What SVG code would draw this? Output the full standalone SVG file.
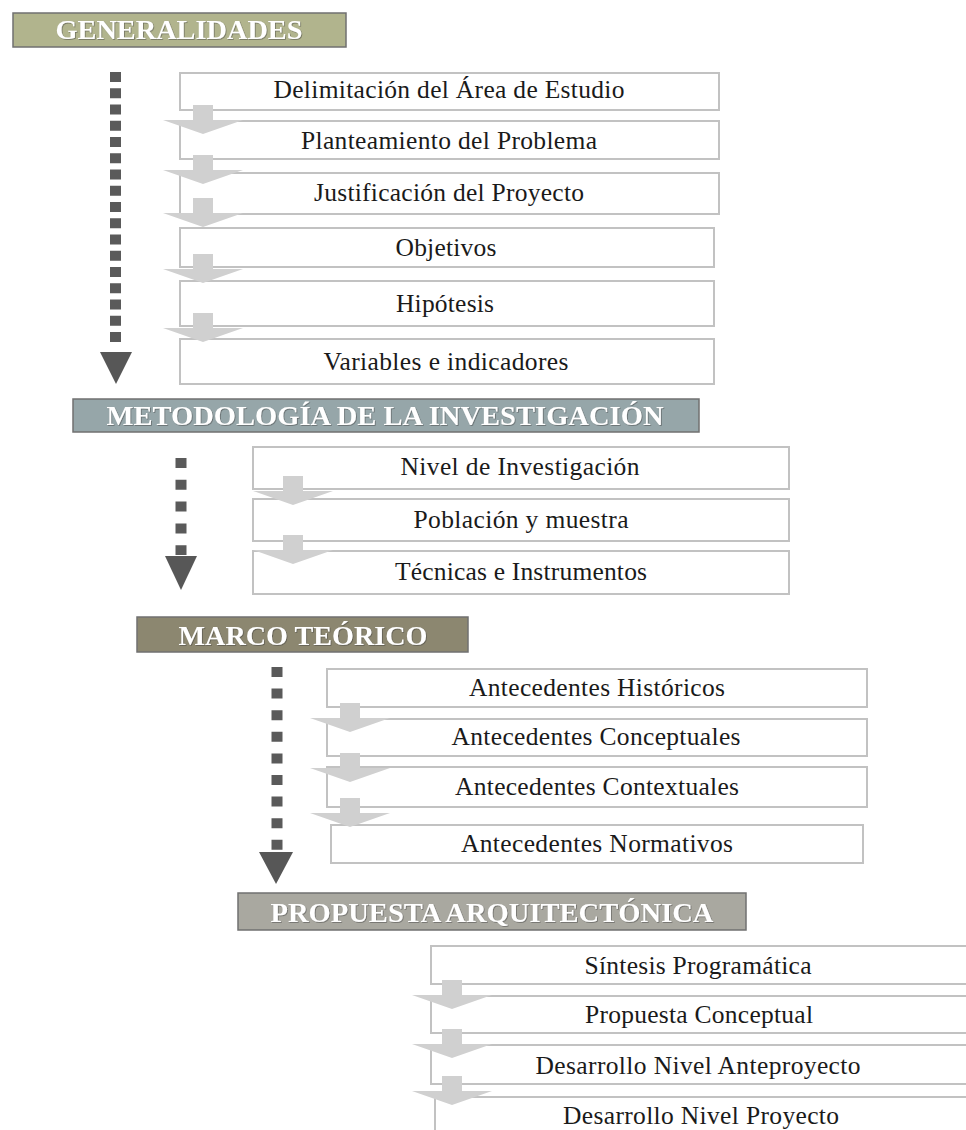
<svg xmlns="http://www.w3.org/2000/svg" xmlns:xlink="http://www.w3.org/1999/xlink" width="966" height="1130" viewBox="0 0 966 1130">
  <style>
    .head rect { stroke: #707070; stroke-width: 1.5; }
    .head text { font-family: "Liberation Serif", "Times New Roman", serif; font-weight: bold; font-size: 27px; fill: #ffffff; text-anchor: middle; filter: url(#soft); }
    .step rect { fill: #ffffff; stroke: #c2c2c2; stroke-width: 2; }
    .step text { font-family: "Liberation Serif", "Times New Roman", serif; font-size: 25.5px; fill: #1a1a1a; text-anchor: middle; }
    .dots { stroke: #5a5a5a; stroke-width: 11; fill: none; }
    .tip { fill: #575757; }
    .flow { fill: #d0d0d0; }
  </style>
  <defs>
    <filter id="soft" x="-5%" y="-30%" width="110%" height="160%">
      <feDropShadow dx="0.8" dy="0.8" stdDeviation="0.7" flood-color="#3a3a3a" flood-opacity="0.55"/>
    </filter>
    <!-- wide light-grey chevron arrow, tip at the origin -->
    <path id="chev" class="flow" d="M-10,-29 H10 V-14 H40 L0,0 L-40,-14 H-10 Z"/>
  </defs>

  <rect width="966" height="1130" fill="#ffffff"/>

  <!-- section headers -->
  <g id="h-generalidades" class="head">
    <rect x="13" y="13" width="333" height="34" fill="#b1b48d"/>
    <text x="179" y="39" textLength="247" lengthAdjust="spacingAndGlyphs">GENERALIDADES</text>
  </g>
  <g id="h-metodologia" class="head">
    <rect x="73" y="399" width="626" height="33" fill="#96a6a9"/>
    <text x="385" y="425" textLength="557" lengthAdjust="spacingAndGlyphs">METODOLOGÍA DE LA INVESTIGACIÓN</text>
  </g>
  <g id="h-marco" class="head">
    <rect x="137" y="617" width="331" height="35" fill="#8c8770"/>
    <text x="303" y="645" textLength="249" lengthAdjust="spacingAndGlyphs">MARCO TEÓRICO</text>
  </g>
  <g id="h-propuesta" class="head">
    <rect x="238" y="893" width="508" height="37" fill="#a9a8a0"/>
    <text x="492" y="922" textLength="443" lengthAdjust="spacingAndGlyphs">PROPUESTA ARQUITECTÓNICA</text>
  </g>

  <!-- GENERALIDADES steps -->
  <g id="s-delimitacion" class="step">
    <rect x="180" y="73" width="539" height="37"/>
    <text x="449" y="98" textLength="351" lengthAdjust="spacing">Delimitación del Área de Estudio</text>
  </g>
  <g id="s-planteamiento" class="step">
    <rect x="180" y="121" width="539" height="38"/>
    <text x="449" y="149" textLength="296" lengthAdjust="spacing">Planteamiento del Problema</text>
  </g>
  <g id="s-justificacion" class="step">
    <rect x="180" y="173" width="539" height="41"/>
    <text x="449" y="201" textLength="270" lengthAdjust="spacing">Justificación del Proyecto</text>
  </g>
  <g id="s-objetivos" class="step">
    <rect x="180" y="228" width="534" height="39"/>
    <text x="446" y="256" textLength="101" lengthAdjust="spacing">Objetivos</text>
  </g>
  <g id="s-hipotesis" class="step">
    <rect x="180" y="281" width="534" height="45"/>
    <text x="445" y="312" textLength="98" lengthAdjust="spacing">Hipótesis</text>
  </g>
  <g id="s-variables" class="step">
    <rect x="180" y="339" width="534" height="45"/>
    <text x="446" y="370" textLength="245" lengthAdjust="spacing">Variables e indicadores</text>
  </g>

  <!-- METODOLOGÍA steps -->
  <g id="s-nivel" class="step">
    <rect x="253" y="447" width="536" height="42"/>
    <text x="520" y="475" textLength="239" lengthAdjust="spacing">Nivel de Investigación</text>
  </g>
  <g id="s-poblacion" class="step">
    <rect x="253" y="499" width="536" height="42"/>
    <text x="521" y="528" textLength="215" lengthAdjust="spacing">Población y muestra</text>
  </g>
  <g id="s-tecnicas" class="step">
    <rect x="253" y="551" width="536" height="43"/>
    <text x="521" y="580" textLength="252" lengthAdjust="spacing">Técnicas e Instrumentos</text>
  </g>

  <!-- MARCO TEÓRICO steps -->
  <g id="s-historicos" class="step">
    <rect x="327" y="669" width="540" height="38"/>
    <text x="597" y="696" textLength="256" lengthAdjust="spacing">Antecedentes Históricos</text>
  </g>
  <g id="s-conceptuales" class="step">
    <rect x="327" y="719" width="540" height="37"/>
    <text x="596" y="745" textLength="289" lengthAdjust="spacing">Antecedentes Conceptuales</text>
  </g>
  <g id="s-contextuales" class="step">
    <rect x="327" y="767" width="540" height="40"/>
    <text x="597" y="795" textLength="284" lengthAdjust="spacing">Antecedentes Contextuales</text>
  </g>
  <g id="s-normativos" class="step">
    <rect x="331" y="825" width="532" height="38"/>
    <text x="597" y="852" textLength="272" lengthAdjust="spacing">Antecedentes Normativos</text>
  </g>

  <!-- PROPUESTA steps (run off the right edge) -->
  <g id="s-sintesis" class="step">
    <rect x="431" y="946" width="545" height="38"/>
    <text x="698" y="974" textLength="227" lengthAdjust="spacing">Síntesis Programática</text>
  </g>
  <g id="s-conceptual" class="step">
    <rect x="431" y="996" width="545" height="37"/>
    <text x="699" y="1023" textLength="228" lengthAdjust="spacing">Propuesta Conceptual</text>
  </g>
  <g id="s-anteproyecto" class="step">
    <rect x="431" y="1045" width="545" height="39"/>
    <text x="698" y="1074" textLength="325" lengthAdjust="spacing">Desarrollo Nivel Anteproyecto</text>
  </g>
  <g id="s-proyecto" class="step">
    <rect x="435" y="1097" width="541" height="50"/>
    <text x="701" y="1124" textLength="276" lengthAdjust="spacing">Desarrollo Nivel Proyecto</text>
  </g>

  <!-- connectors -->
  <g id="connectors">
    <!-- dotted section flow lines -->
    <line class="dots" x1="115.5" y1="72" x2="115.5" y2="342" stroke-dasharray="10 6.25"/>
    <polygon class="tip" points="100,352 132,352 116,384"/>
    <line class="dots" x1="181" y1="458" x2="181" y2="555" stroke-dasharray="10 11.8"/>
    <polygon class="tip" points="165,556 197,556 181,590"/>
    <line class="dots" x1="277" y1="667" x2="277" y2="850" stroke-dasharray="10 11.6"/>
    <polygon class="tip" points="259,852 293,852 276,884"/>

    <!-- step-to-step chevrons -->
    <use xlink:href="#chev" href="#chev" x="203" y="134"/>
    <use xlink:href="#chev" href="#chev" x="203" y="184"/>
    <use xlink:href="#chev" href="#chev" x="203" y="227"/>
    <use xlink:href="#chev" href="#chev" x="203" y="283"/>
    <use xlink:href="#chev" href="#chev" x="203" y="342"/>

    <use xlink:href="#chev" href="#chev" x="293" y="505"/>
    <use xlink:href="#chev" href="#chev" x="293" y="564"/>

    <use xlink:href="#chev" href="#chev" x="350" y="732"/>
    <use xlink:href="#chev" href="#chev" x="350" y="782"/>
    <use xlink:href="#chev" href="#chev" x="350" y="827"/>

    <use xlink:href="#chev" href="#chev" x="452" y="1009"/>
    <use xlink:href="#chev" href="#chev" x="452" y="1058"/>
    <use xlink:href="#chev" href="#chev" x="452" y="1105"/>
  </g>
</svg>
